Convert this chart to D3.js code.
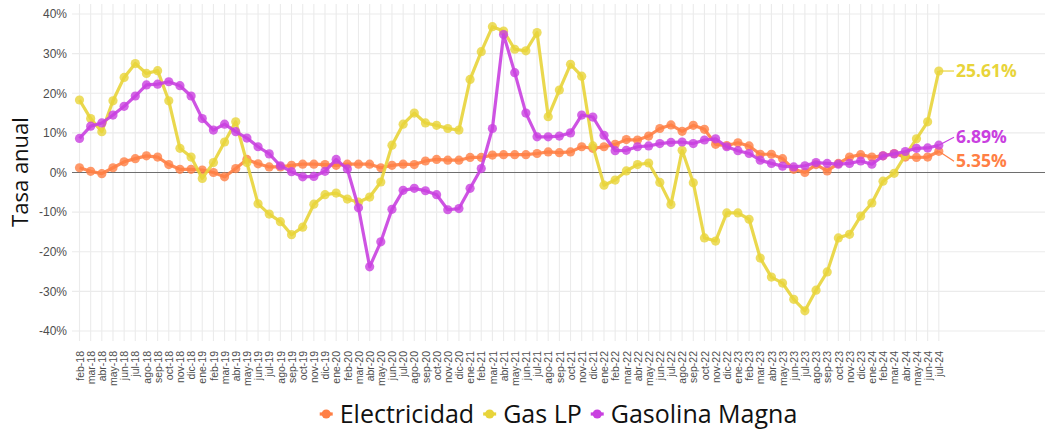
<!DOCTYPE html>
<html>
<head>
<meta charset="utf-8">
<script src="https://cdn.jsdelivr.net/npm/d3@7"></script>
<style>
  body { margin: 0; background: #ffffff; }
  svg { display: block; font-family: "Open Sans", "Noto Sans", sans-serif; }
</style>
</head>
<body>
<svg id="mainSvg" width="1050" height="430"></svg>
<script>
// monthly labels, feb-18 .. jul-24
var months = ["feb-18","mar-18","abr-18","may-18","jun-18","jul-18","ago-18","sep-18","oct-18","nov-18","dic-18",
  "ene-19","feb-19","mar-19","abr-19","may-19","jun-19","jul-19","ago-19","sep-19","oct-19","nov-19","dic-19",
  "ene-20","feb-20","mar-20","abr-20","may-20","jun-20","jul-20","ago-20","sep-20","oct-20","nov-20","dic-20",
  "ene-21","feb-21","mar-21","abr-21","may-21","jun-21","jul-21","ago-21","sep-21","oct-21","nov-21","dic-21",
  "ene-22","feb-22","mar-22","abr-22","may-22","jun-22","jul-22","ago-22","sep-22","oct-22","nov-22","dic-22",
  "ene-23","feb-23","mar-23","abr-23","may-23","jun-23","jul-23","ago-23","sep-23","oct-23","nov-23","dic-23",
  "ene-24","feb-24","mar-24","abr-24","may-24","jun-24","jul-24"];

var electricidad = [1.2,0.3,-0.3,1.2,2.7,3.5,4.2,3.9,2.0,0.8,0.8,
  0.6,0.0,-1.1,1.0,3.3,2.2,1.4,1.4,1.8,2.1,2.1,2.0,
  1.8,2.1,2.1,2.1,1.2,1.8,2.1,2.0,2.9,3.3,3.1,3.1,
  3.8,3.8,4.4,4.5,4.5,4.5,4.8,5.2,5.0,5.2,6.5,6.1,
  6.5,7.1,8.3,8.2,9.2,11.1,12.0,10.4,11.9,10.9,7.1,6.8,
  7.5,6.7,4.6,4.6,3.5,0.8,0.0,2.0,0.4,2.3,3.9,4.5,
  3.9,4.2,4.8,3.9,3.8,3.9,5.35];

var gasLP = [18.3,13.6,10.3,18.1,24.0,27.5,25.0,25.7,18.1,6.1,3.9,
  -1.5,2.5,7.7,12.8,2.5,-7.9,-10.5,-12.4,-15.7,-13.8,-8.0,-5.6,
  -5.2,-6.7,-7.5,-6.2,-2.4,6.9,12.2,15.0,12.5,11.9,11.1,10.7,
  23.5,30.5,36.8,35.7,31.1,30.7,35.3,14.1,20.8,27.3,24.3,6.7,
  -3.2,-1.9,0.4,2.0,2.4,-2.5,-8.1,5.6,-2.6,-16.5,-17.3,-10.2,
  -10.2,-11.8,-21.6,-26.4,-27.9,-32.0,-34.9,-29.7,-25.1,-16.5,-15.6,-11.0,
  -7.7,-2.2,-0.2,4.3,8.5,12.8,25.61];

var gasolinaMagna = [8.6,11.7,12.5,14.5,16.7,19.3,22.1,22.3,22.9,21.9,19.3,
  13.6,10.7,12.2,10.3,8.7,6.5,4.7,1.7,0.2,-1.1,-1.0,0.3,
  3.3,0.9,-8.9,-23.8,-17.5,-9.3,-4.5,-4.0,-4.6,-5.6,-9.4,-9.1,
  -4.0,1.0,11.1,34.8,25.2,15.0,9.0,9.0,9.2,10.0,14.5,14.0,
  9.4,5.5,5.6,6.5,6.7,7.3,7.6,7.7,7.3,8.2,8.5,6.5,
  5.5,4.8,3.1,2.3,1.6,1.4,1.7,2.5,2.3,2.1,2.3,2.9,
  2.1,4.2,4.7,5.3,6.1,6.2,6.89];

var yTicks = [-40,-30,-20,-10,0,10,20,30,40];

var seriesNames = ["Electricidad","Gas LP","Gasolina Magna"];
var seriesColors = ["#ff7f45","#e8d43a","#c940e0"];
var seriesValues = [electricidad, gasLP, gasolinaMagna];
var endLabels = ["5.35%","25.61%","6.89%"];

var svg = d3.select("#mainSvg");

var panelLeft = 72, panelRight = 1045, panelTop = 4, panelBottom = 341;

var x = d3.scaleLinear().domain([0, months.length - 1]).range([79.5, 938.8]);
var y = d3.scaleLinear().domain([-40, 40]).range([331, 14]);

function drawGrid(){
  svg.append("g").selectAll("line")
    .data(yTicks)
    .enter().append("line")
      .attr("x1", panelLeft)
      .attr("x2", panelRight)
      .attr("y1", function(d){ return y(d); })
      .attr("y2", function(d){ return y(d); })
      .style("stroke", "#ebebeb")
      .style("stroke-width", 1.1);

  svg.append("g").selectAll("line")
    .data(months)
    .enter().append("line")
      .attr("x1", function(d, i){ return x(i); })
      .attr("x2", function(d, i){ return x(i); })
      .attr("y1", panelTop)
      .attr("y2", panelBottom)
      .style("stroke", "#ebebeb")
      .style("stroke-width", 1.1);

  // zero reference line
  svg.append("line")
    .attr("x1", panelLeft)
    .attr("x2", panelRight)
    .attr("y1", y(0))
    .attr("y2", y(0))
    .style("stroke", "#6e6e6e")
    .style("stroke-width", 1);
}

function drawAxes(){
  var yAxis = d3.axisLeft(y)
    .tickValues(yTicks)
    .tickSize(0)
    .tickPadding(5)
    .tickFormat(function(d){ return d + "%"; });
  var gy = svg.append("g")
    .attr("transform", "translate(" + panelLeft + ",0)")
    .call(yAxis);
  gy.select(".domain").remove();
  gy.selectAll("text")
    .style("font-size", "12px")
    .style("fill", "#4d4d4d");

  var xAxis = d3.axisBottom(x)
    .tickValues(d3.range(months.length))
    .tickSize(0)
    .tickFormat(function(d){ return months[d]; });
  var gx = svg.append("g")
    .attr("transform", "translate(0," + panelBottom + ")")
    .call(xAxis);
  gx.select(".domain").remove();
  gx.selectAll("text")
    .attr("transform", "rotate(-90)")
    .attr("text-anchor", "end")
    .attr("x", -10)
    .attr("y", 0)
    .attr("dy", "0.35em")
    .style("font-size", "10.5px")
    .style("fill", "#4d4d4d");

  svg.append("text")
    .attr("transform", "translate(28,172) rotate(-90)")
    .attr("text-anchor", "middle")
    .style("font-size", "22px")
    .style("fill", "#111")
    .text("Tasa anual");
}

function drawSeries(){
  var line = d3.line()
    .x(function(d, i){ return x(i); })
    .y(function(d){ return y(d); });

  for (var s = 0; s < seriesValues.length; s++){
    var g = svg.append("g");
    g.append("path")
      .datum(seriesValues[s])
      .attr("d", line)
      .style("fill", "none")
      .style("stroke", seriesColors[s])
      .style("stroke-width", 3.2)
      .style("stroke-linejoin", "round")
      .style("opacity", 0.9);
    g.selectAll("circle")
      .data(seriesValues[s])
      .enter().append("circle")
        .attr("cx", function(d, i){ return x(i); })
        .attr("cy", function(d){ return y(d); })
        .attr("r", 4.6)
        .style("fill", seriesColors[s])
        .style("opacity", 0.8);
  }
}

function drawEndLabels(){
  // label offsets mimic the repelled labels of the original
  var offsets = [10, 0, -8];
  var last = months.length - 1;
  for (var s = 0; s < seriesValues.length; s++){
    var vy = y(seriesValues[s][last]);
    var ly = vy + offsets[s];
    svg.append("line")
      .attr("x1", x(last))
      .attr("y1", vy)
      .attr("x2", 954)
      .attr("y2", ly)
      .style("stroke", seriesColors[s])
      .style("stroke-width", 1.2);
    svg.append("text")
      .attr("x", 956)
      .attr("y", ly)
      .attr("dy", "0.35em")
      .style("font-size", "17.5px")
      .style("font-weight", "bold")
      .style("fill", seriesColors[s])
      .text(endLabels[s]);
  }
}

function drawLegend(){
  var legend = svg.append("g");
  var pos = 0;
  var gap = 9;
  for (var s = 0; s < seriesNames.length; s++){
    var item = legend.append("g").attr("transform", "translate(" + pos + ",0)");
    item.append("line")
      .attr("x1", 0).attr("x2", 13)
      .attr("y1", 0).attr("y2", 0)
      .style("stroke", seriesColors[s])
      .style("stroke-width", 3.2);
    item.append("circle")
      .attr("cx", 6.5).attr("cy", 0).attr("r", 4.6)
      .style("fill", seriesColors[s]);
    var t = item.append("text")
      .attr("x", 20)
      .attr("y", 0)
      .attr("dy", "0.36em")
      .style("font-size", "25px")
      .style("fill", "#111")
      .text(seriesNames[s]);
    pos += 20 + t.node().getComputedTextLength() + gap;
  }
  var total = pos - gap;
  legend.attr("transform", "translate(" + ((panelLeft + panelRight) / 2 - total / 2) + ",414)");
}

drawGrid();
drawAxes();
drawSeries();
drawEndLabels();
drawLegend();
</script>
</body>
</html>
